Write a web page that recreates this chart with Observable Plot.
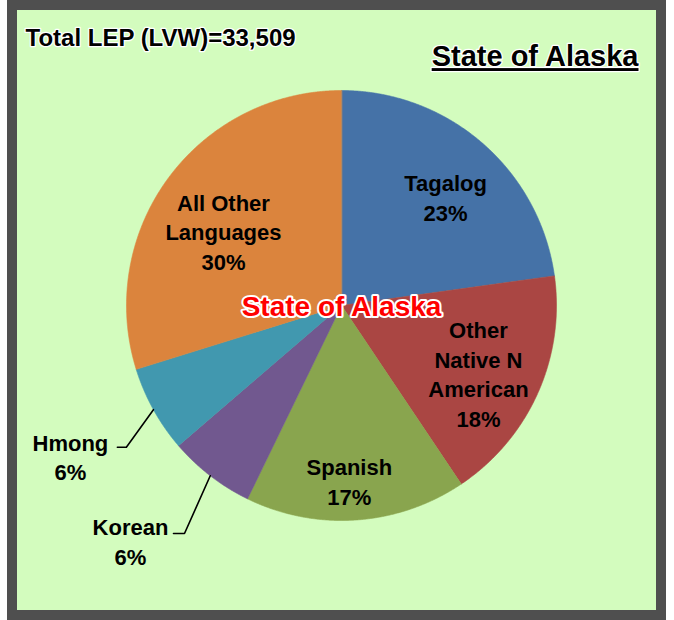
<!DOCTYPE html>
<html><head><meta charset="utf-8">
<script src="https://cdn.jsdelivr.net/npm/d3@7"></script>
<script src="https://cdn.jsdelivr.net/npm/@observablehq/plot@0.6"></script>
<style>
body{margin:0;background:#fff;}
#frame{position:absolute;left:7px;top:0;width:659px;height:620px;box-sizing:border-box;border:10px solid #4f4f4f;background:#d3fcbe;}
#chart{position:absolute;left:0;top:0;}
</style></head><body>
<div id="frame"></div>
<div id="chart"></div>
<script>
// ---- data ----
const languages = ["Tagalog","Other Native N American","Spanish","Korean","Hmong","All Other Languages"];
const shares = [22.8, 17.8, 16.6, 6.5, 6.5, 29.8];
const shownPct = ["23%","18%","17%","6%","6%","30%"];
const labelNames = ["Tagalog","Other\nNative N\nAmerican","Spanish","Korean","Hmong","All Other\nLanguages"];
const colors = ["#4572a7","#aa4643","#89a54e","#71588f","#4198af","#db843d"];
const totalLabel = "Total LEP (LVW)=33,509";
const titleText = "State of Alaska";
const centerText = "State of Alaska";

// ---- layout ----
const PX = 215; // pixels per unit radius
const labelRadius = [0.70, 0.71, 0.815, 1.469, 1.443, 0.65];
const labelTurn = [2.7, 2.1, 1.4, 4.3, -0.1, -4.0]; // degrees
const leaderOffsets = {3: [[54,-7],[43,-7]], 4: [[56,-9],[47,-9]]}; // px from label centre

const arcs = d3.pie().sort(null).value(d => d)(shares);
const deg = Math.PI / 180;

const slices = arcs.map(a => {
  const pts = [{x: 0, y: 0}];
  const n = Math.max(2, Math.ceil((a.endAngle - a.startAngle) / 0.004));
  for (let k = 0; k <= n; k++) {
    const t = a.startAngle + (a.endAngle - a.startAngle) * k / n;
    pts.push({x: Math.sin(t), y: Math.cos(t)});
  }
  return pts;
});

const labels = arcs.map((a, i) => {
  const m = (a.startAngle + a.endAngle) / 2 + labelTurn[i] * deg;
  return {x: labelRadius[i] * Math.sin(m), y: labelRadius[i] * Math.cos(m), text: labelNames[i] + "\n" + shownPct[i]};
});

const leaders = Object.keys(leaderOffsets).map(k => {
  const i = +k, a = arcs[i];
  const m = (a.startAngle + a.endAngle) / 2;
  const L = labels[i];
  const pts = [{x: Math.sin(m), y: Math.cos(m)}];
  for (const [dx, dy] of leaderOffsets[i]) pts.push({x: L.x + dx / PX, y: L.y - dy / PX});
  return pts;
});

const font = "Liberation Sans, Arial, Helvetica, sans-serif";

const plot = Plot.plot({
  width: 674, height: 620, margin: 0,
  x: {domain: [-1, 1], range: [126, 556], axis: null},
  y: {domain: [-1, 1], range: [520, 90], axis: null},
  style: {background: "transparent", overflow: "visible", fontFamily: font},
  marks: [
    ...slices.map((pts, i) => Plot.line(pts, {x: "x", y: "y", fill: colors[i], stroke: colors[i], strokeWidth: 0.6, curve: "linear-closed"})),
    ...leaders.map(pts => Plot.line(pts, {x: "x", y: "y", stroke: "#000", strokeWidth: 1.6})),
    Plot.text(labels, {x: "x", y: "y", text: "text", fontSize: 22, fontWeight: "bold", fontFamily: font, lineHeight: 1.34, fill: "#000"}),
    Plot.text([{x: 0, y: 0, t: centerText}], {x: "x", y: "y", text: "t", dy: 2, fontSize: 28, fontWeight: "bold", fontFamily: font, fill: "#ff0000", stroke: "#fff", strokeWidth: 4}),
    Plot.text([totalLabel], {frameAnchor: "top-left", dx: 25, dy: 28, textAnchor: "start", fontSize: 24, fontWeight: "bold", fontFamily: font, fill: "#000", stroke: "#fff", strokeWidth: 2.5}),
    Plot.text([titleText], {frameAnchor: "top-left", dx: 638, dy: 45, textAnchor: "end", fontSize: 29, fontWeight: "bold", fontFamily: font, fill: "#000", stroke: "#fff", strokeWidth: 2.5})
  ]
});
const textGroups = plot.querySelectorAll('g[aria-label="text"]');
const titleGroup = textGroups[textGroups.length - 1];
titleGroup.querySelectorAll("text").forEach(t => { t.style.textDecoration = "underline"; t.setAttribute("text-decoration", "underline"); });
document.getElementById("chart").appendChild(plot);
</script>
</body></html>
